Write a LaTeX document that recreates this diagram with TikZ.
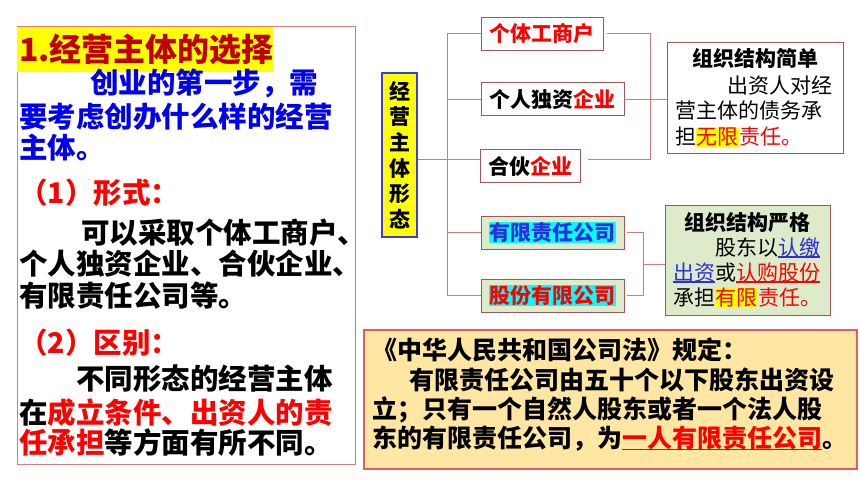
\documentclass[tikz,border=0pt]{standalone}
\usepackage{fontspec}
\setmainfont{Noto Sans CJK SC}
\usetikzlibrary{positioning}
\definecolor{titred}{RGB}{192,0,0}
\definecolor{txtblue}{RGB}{0,0,240}
\definecolor{txtred}{RGB}{255,0,0}
\definecolor{linkblue}{RGB}{45,45,225}
\definecolor{boxline}{RGB}{165,85,85}
\definecolor{treeline}{RGB}{214,120,120}
\definecolor{pinkline}{RGB}{228,120,120}
\definecolor{lawline}{RGB}{225,95,95}
\definecolor{infogreen}{RGB}{221,235,202}
\definecolor{lawfill}{RGB}{255,230,163}
\definecolor{hlcyan}{RGB}{0,255,255}
\definecolor{hlyellow}{RGB}{255,255,0}
\definecolor{labblue}{RGB}{60,60,230}
\newcommand{\hlbox}[2]{{\setlength{\fboxsep}{0.6pt}\colorbox{#1}{#2}}}
\newcommand{\undl}[1]{\setbox0\hbox{#1}\rlap{\rule[-2.6pt]{\wd0}{1.2pt}}\box0}
\tikzset{
  lefttext/.style={anchor=base west, inner sep=0, font=\fontsize{28.5}{32}\selectfont\bfseries},
  formbox/.style={draw=boxline, fill=white, line width=0.8, minimum height=33, inner sep=0,
    font=\fontsize{21}{24}\selectfont\bfseries},
  branch/.style={draw=treeline, line width=0.8},
  infotext/.style={anchor=base west, inner sep=0, font=\fontsize{21}{24}\selectfont},
  infohead/.style={anchor=base, inner sep=0, font=\fontsize{21}{24}\selectfont\bfseries},
  lawtext/.style={anchor=base west, inner sep=0, font=\fontsize{25}{28}\selectfont\bfseries},
}
\begin{document}
\begin{tikzpicture}[x=1pt,y=-1pt]
  %%%%% START %%%%%
  \useasboundingbox (0,0) rectangle (860,484);

  % left text panel
  \draw[pinkline, fill=white, line width=1] (17,27) rectangle (355,464);
  \fill[hlyellow] (17,27) rectangle (273,72);
  \node[lefttext, font=\fontsize{32}{34}\selectfont\bfseries, text=titred] (tit) at (19,62) {1.经营主体的选择};
  \node[lefttext, text=txtblue] (p1a) at (90,94) {创业的第一步，需};
  \node[lefttext, text=txtblue] (p1b) at (19,128) {要考虑创办什么样的经营};
  \node[lefttext, text=txtblue] (p1c) at (19,159) {主体。};
  \node[lefttext, text=txtred] (h1) at (19,204) {（1）形式：};
  \node[lefttext] (p2a) at (81,243) {可以采取个体工商户、};
  \node[lefttext] (p2b) at (19,274) {个人独资企业、合伙企业、};
  \node[lefttext] (p2c) at (19,306) {有限责任公司等。};
  \node[lefttext, text=txtred] (h2) at (19,353) {（2）区别：};
  \node[lefttext] (p3a) at (76,389) {不同形态的经营主体};
  \node[lefttext] (p3b) at (19,423) {在{\color{txtred}成立条件、出资人的责}};
  \node[lefttext] (p3c) at (19,453) {{\color{txtred}任承担}等方面有所不同。};

  % tree of forms
  \node[draw=labblue, fill=hlyellow, line width=1.5, minimum width=35, minimum height=164,
    inner sep=0, align=center, font=\fontsize{21}{25.6}\selectfont\bfseries] (vbox) at (399.5,155)
    {经\\营\\主\\体\\形\\态};
  \node[formbox, minimum width=122, text=txtred] (b1) at (542,33.5) {个体工商户};
  \node[formbox, minimum width=143] (b2) at (552.5,99) {个人独资{\color{txtred}企业}};
  \node[formbox, minimum width=100] (b3) at (530,166) {合伙{\color{txtred}企业}};
  \node[formbox, minimum width=143, fill=infogreen] (b4) at (552.5,232.5)
    {\hlbox{hlcyan}{\color{linkblue}有限责任公司}};
  \node[formbox, minimum width=143, fill=infogreen] (b5) at (552.5,295.5)
    {\hlbox{hlcyan}{\color{txtred}股份有限公司}};

  \coordinate (jn) at (447,159);
  \draw[branch] ([yshift=-4pt]vbox.east) -- (jn);
  \draw[branch] (b1.west -| jn) -- (b5.west -| jn);
  \foreach \b in {b1,b2,b4,b5}
    \draw[branch] (\b.west -| jn) -- (\b.west);
  \draw[branch] (jn) -- ([yshift=7pt]b3.west);

  % info boxes
  \node[draw=boxline, fill=white, line width=0.8, minimum width=176, minimum height=111] (i1) at (755,97.5) {};
  \node[infohead] (i1a) at (755,67) {组织结构简单};
  \node[infotext] (i1b) at (727,94) {出资人对经};
  \node[infotext] (i1c) at (675,119) {营主体的债务承};
  \node[infotext] (i1d) at (675,145) {担\hlbox{hlyellow}{\color{txtred}无限}{\color{txtred}责任。}};

  \node[draw=boxline, fill=infogreen, line width=0.8, minimum width=165, minimum height=110] (i2) at (747.5,260) {};
  \node[infohead] (i2a) at (747.5,230) {组织结构严格};
  \node[infotext] (i2b) at (715,255) {股东以{\color{linkblue}\undl{认缴}}};
  \node[infotext] (i2c) at (673,280) {{\color{linkblue}\undl{出资}}或{\color{txtred}\undl{认购股份}}};
  \node[infotext] (i2d) at (673,305) {承担\hlbox{hlyellow}{\color{txtred}有限}{\color{txtred}责任。}};

  \coordinate (rj1) at (650,99);
  \draw[branch] ([xshift=4pt]b1.east) -- (b1.east -| rj1) -- ([yshift=7pt]b3.east -| rj1)
    -- ([xshift=8pt,yshift=7pt]b3.east);
  \draw[branch] (b2.east) -- (b2.east -| i1.west);
  \coordinate (rj2) at (643,264);
  \draw[branch] ([xshift=3pt]b4.east) -- (b4.east -| rj2) -- (b5.east -| rj2) -- ([xshift=3pt]b5.east);
  \draw[branch] (rj2) -- (rj2 -| i2.west);

  % company law box
  \node[draw=lawline, fill=lawfill, line width=1.2, minimum width=493, minimum height=139] (law) at (610.5,399.5) {};
  \node[lawtext] (la) at (372,359.5) {《中华人民共和国公司法》规定：};
  \node[lawtext] (lb) at (409,389.5) {有限责任公司由五十个以下股东出资设};
  \node[lawtext] (lc) at (372,418.5) {立；只有一个自然人股东或者一个法人股};
  \node[lawtext] (ld) at (372,447.5) {东的有限责任公司，为{\color{txtred}\undl{一人有限责任公司}}。};
  %%%%% END %%%%%
\end{tikzpicture}
\end{document}
